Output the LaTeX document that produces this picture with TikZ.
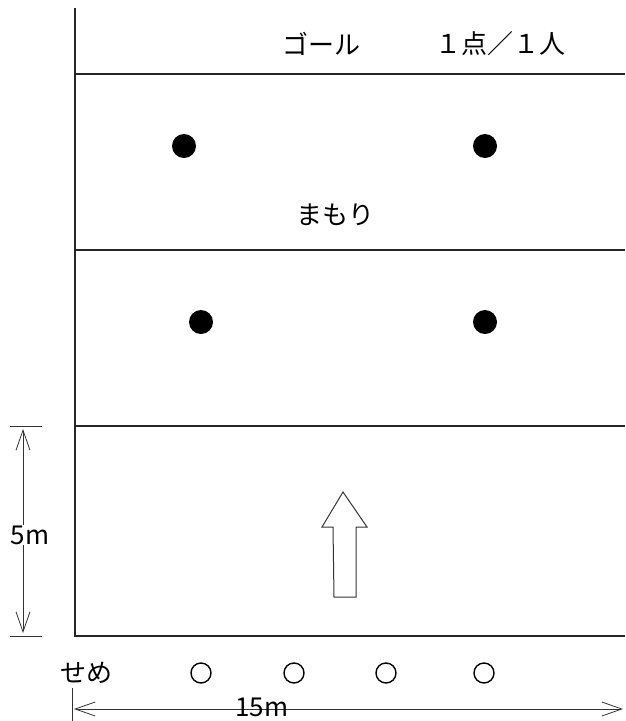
\documentclass[tikz,border=0pt]{standalone}
\usepackage{fontspec}
\newfontfamily\jp{Noto Sans CJK JP}
\usetikzlibrary{arrows.meta}
\begin{document}
\begin{tikzpicture}[x=1pt,y=-1pt,
  field/.style={line width=1.1pt, draw=black!85},
  dim/.style={line width=0.8pt, draw=black!80, {Straight Barb[length=20pt,width=14pt]}-{Straight Barb[length=20pt,width=14pt]}},
  tick/.style={line width=1pt, draw=black!80},
  lbl/.style={font=\jp\fontsize{26}{26}\selectfont, inner sep=0pt},
  defender/.style={circle, fill=black, minimum size=24pt, inner sep=0pt},
  attacker/.style={circle, draw=black, line width=1.4pt, minimum size=20pt, inner sep=0pt}]
\useasboundingbox (0,0) rectangle (625,721);
% field outline and zone lines
\coordinate (tl) at (75,8);
\coordinate (bl) at (75,636);
\draw[field] (tl) -- (bl) -- (625,636);
\draw[field] (75,74) -- (625,74);
\draw[field] (75,250) -- (625,250);
\draw[field] (75,426) -- (625,426);
% labels
\node[lbl] (goal) at (321,44) {ゴール};
\node[lbl] (pts) at (500,44) {１点／１人};
\node[lbl] (mamori) at (335,215) {まもり};
\node[lbl] (seme) at (86,673) {せめ};
% defenders
\node[defender] (d1) at (184,146) {};
\node[defender] (d2) at (485,146) {};
\node[defender] (d3) at (201,322) {};
\node[defender] (d4) at (485,322) {};
% attackers
\node[attacker] (a1) at (201,673) {};
\node[attacker] (a2) at (294,673) {};
\node[attacker] (a3) at (386,673) {};
\node[attacker] (a4) at (484,673) {};
% direction arrow
\draw[line width=1pt, draw=black!80, fill=white]
  (343,492) -- (367,527) -- (356,527) -- (356,597) -- (334,597) -- (333,527) -- (322,527) -- cycle;
% 5m dimension
\draw[tick] (10,426) -- (42,426);
\draw[tick] (10,636) -- (42,636);
\coordinate (v1) at (23,429);
\coordinate (v2) at (23,633);
\draw[dim] (v1) -- (v2);
\node[lbl, fill=white, inner sep=0.5pt] (five) at (30,535) {5m};
% 15m dimension
\draw[tick] (72,688) -- (72,721);
\coordinate (h1) at (74,709);
\coordinate (h2) at (623,709);
\draw[dim] (h1) -- (h2);
\node[lbl] (fifteen) at (262,707) {15m};
\end{tikzpicture}
\end{document}
